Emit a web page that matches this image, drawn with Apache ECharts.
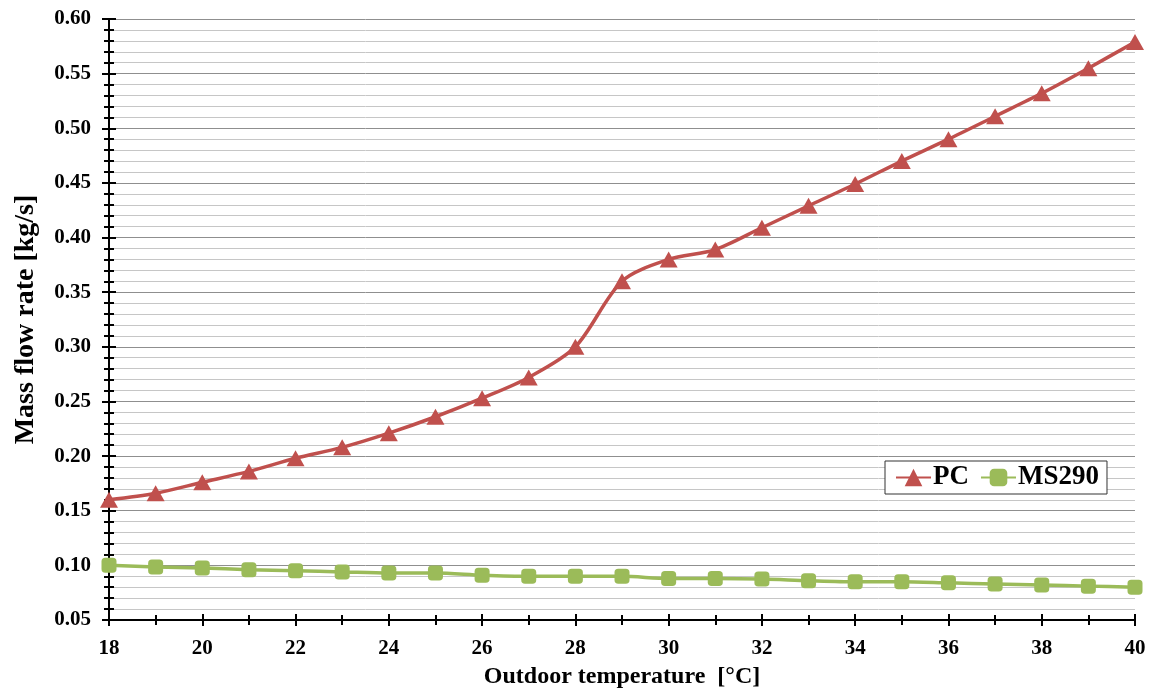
<!DOCTYPE html>
<html>
<head>
<meta charset="utf-8">
<script src="https://cdn.jsdelivr.net/npm/echarts@6/dist/echarts.min.js"></script>
<style>
html,body{margin:0;padding:0;background:#fff;}
#chart{width:1150px;height:691px;}
</style>
</head>
<body>
<div id="chart"></div>
<script>
const temperatures = [18,19,20,21,22,23,24,25,26,27,28,29,30,31,32,33,34,35,36,37,38,39,40];
const pcValues = [0.160,0.166,0.176,0.186,0.198,0.208,0.221,0.236,0.253,0.272,0.300,0.360,0.380,0.389,0.409,0.429,0.449,0.470,0.490,0.511,0.532,0.555,0.579];
const ms290Values = [0.100,0.0985,0.0976,0.096,0.095,0.094,0.093,0.093,0.091,0.090,0.090,0.090,0.088,0.088,0.0875,0.086,0.085,0.085,0.084,0.083,0.082,0.081,0.080];
const seriesNames = ['PC','MS290'];
const xTitle = 'Outdoor temperature  [°C]';
const yTitle = 'Mass flow rate [kg/s]';

const FONT = '"Liberation Serif","Times New Roman",serif';
const chart = echarts.init(document.getElementById('chart'));
const pair = (xs, ys) => xs.map((x, i) => [x, ys[i]]);

const xBase = {type:'value', min:18, max:40, interval:2, gridIndex:0, position:'bottom'};
const yBase = {type:'value', min:0.05, max:0.60, interval:0.05, gridIndex:0, position:'left'};

chart.setOption({
  backgroundColor:'#fff',
  animation:false,
  grid:{left:109, right:15, top:19, bottom:71, containLabel:false, outerBoundsMode:'none'},
  legend:{
    data:seriesNames,
    left:885, top:461,
    backgroundColor:'#fff',
    borderColor:'#333', borderWidth:1,
    padding:[3,8,3,10],
    itemGap:11, itemWidth:35, itemHeight:22,
    textStyle:{fontFamily:FONT, fontWeight:'bold', fontSize:27, color:'#000', padding:[0,0,0,-3]}
  },
  xAxis:[
    Object.assign({}, xBase, {
      name:xTitle, nameLocation:'middle', nameGap:45,
      nameTextStyle:{fontFamily:FONT, fontWeight:'bold', fontSize:24, color:'#000'},
      axisLine:{show:true, lineStyle:{color:'#000', width:2}},
      axisTick:{show:true, inside:false, length:6, lineStyle:{color:'#000', width:2}},
      minorTick:{show:true, splitNumber:2, length:5, lineStyle:{color:'#000', width:2}},
      axisLabel:{fontFamily:FONT, fontWeight:'bold', fontSize:21, color:'#000', margin:18},
      splitLine:{show:false}
    }),
    Object.assign({}, xBase, {
      axisLine:{show:false},
      axisTick:{show:true, inside:true, length:6, lineStyle:{color:'#000', width:2}},
      minorTick:{show:true, splitNumber:2, length:5, lineStyle:{color:'#000', width:2}},
      axisLabel:{show:false},
      splitLine:{show:false}
    })
  ],
  yAxis:[
    Object.assign({}, yBase, {
      name:yTitle, nameLocation:'middle', nameGap:69, nameRotate:90,
      nameTextStyle:{fontFamily:FONT, fontWeight:'bold', fontSize:28, color:'#000'},
      axisLine:{show:true, lineStyle:{color:'#000', width:2}},
      axisTick:{show:true, inside:false, length:7, lineStyle:{color:'#000', width:2}},
      minorTick:{show:true, splitNumber:5, length:5, lineStyle:{color:'#000', width:2}},
      axisLabel:{fontFamily:FONT, fontWeight:'bold', fontSize:21, color:'#000', margin:18,
        formatter:v => v.toFixed(2)},
      splitLine:{show:true, lineStyle:{color:'#8f8f8f', width:1}},
      minorSplitLine:{show:true, lineStyle:{color:'#c6c6c6', width:1}}
    }),
    Object.assign({}, yBase, {
      axisLine:{show:false},
      axisTick:{show:true, inside:true, length:7, lineStyle:{color:'#000', width:2}},
      minorTick:{show:true, splitNumber:5, length:5, lineStyle:{color:'#000', width:2}},
      axisLabel:{show:false},
      splitLine:{show:false}
    })
  ],
  series:[
    {
      name:seriesNames[0], type:'line', xAxisIndex:0, yAxisIndex:0,
      data:pair(temperatures, pcValues),
      smooth:0.3,
      symbol:'triangle', symbolSize:[18,16],
      itemStyle:{color:'#C0504D'},
      lineStyle:{color:'#C0504D', width:3.5},
      z:3
    },
    {
      name:seriesNames[1], type:'line', xAxisIndex:0, yAxisIndex:0,
      data:pair(temperatures, ms290Values),
      smooth:0.3,
      symbol:'roundRect', symbolSize:15,
      itemStyle:{color:'#9BBB59', borderRadius:2},
      lineStyle:{color:'#9BBB59', width:3.5},
      z:3
    }
  ]
});
</script>
</body>
</html>
